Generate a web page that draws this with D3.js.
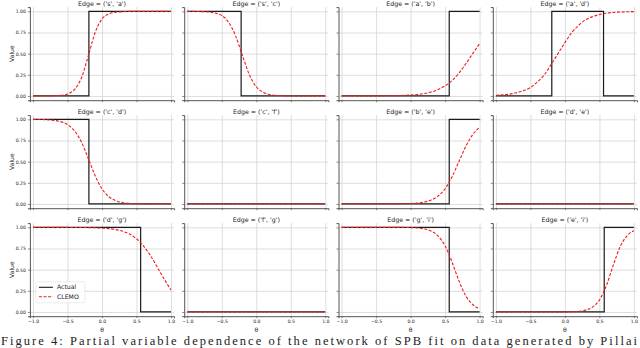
<!DOCTYPE html>
<meta charset="utf-8">
<html>
<head>
<title>edge dependence</title>
<style>
    body {
        margin: 0;
        background: #fff;
    }
    svg text {
        font-family: "DejaVu Sans", sans-serif;
        fill: #222;
    }
</style>
<script src="https://d3js.org/d3.v7.min.js"></script>
</head>
<body>
<div id="chart"></div>
<script>

var theta = [-1.0, -0.9, -0.8, -0.7, -0.6, -0.5, -0.4, -0.3, -0.2, -0.1, 0.0,
             0.1, 0.2, 0.3, 0.4, 0.5, 0.6, 0.7, 0.8, 0.9, 1.0];

var edges = [["s", "a"], ["s", "c"], ["a", "b"], ["a", "d"],
             ["c", "d"], ["c", "f"], ["b", "e"], ["d", "e"],
             ["d", "g"], ["f", "g"], ["g", "i"], ["e", "i"]];

// actual: value at theta=-1 and where it flips
var actualStart = [0, 1, 0, 0,  1, 0, 0, 0,  1, 0, 1, 0];
var actualSteps = [[-0.19], [-0.22], [0.56], [-0.19, 0.56],
                   [-0.19], [], [0.56], [],
                   [0.56], [], [0.56], [0.57]];

// CLEMO values at each theta
var clemoSA = [0, 0, 0, 0.002, 0.007, 0.024, 0.075, 0.21, 0.47, 0.75, 0.91, 0.97, 0.99, 0.995, 1, 1, 1, 1, 1, 1, 1];
var clemoSC = [1, 0.999, 0.997, 0.993, 0.98, 0.95, 0.87, 0.71, 0.475, 0.25, 0.109, 0.043, 0.016, 0.006, 0.002, 0, 0, 0, 0, 0, 0];
var clemoAB = [0, 0, 0, 0.0002, 0.0004, 0.001, 0.0015, 0.0025, 0.004, 0.007, 0.011, 0.018, 0.029, 0.047, 0.076, 0.12, 0.18, 0.27, 0.38, 0.5, 0.62];
var clemoAD = [0.008, 0.013, 0.022, 0.038, 0.063, 0.10, 0.165, 0.25, 0.37, 0.5, 0.63, 0.75, 0.835, 0.90, 0.937, 0.962, 0.978, 0.987, 0.992, 0.995, 0.997];
var clemoCD = [0.999, 0.998, 0.995, 0.988, 0.973, 0.938, 0.866, 0.735, 0.54, 0.336, 0.178, 0.085, 0.038, 0.017, 0.007, 0.003, 0.001, 0, 0, 0, 0];
var clemoCF = [0, 0, 0, 0, 0, 0, 0, 0, 0, 0, 0, 0, 0, 0, 0, 0, 0, 0, 0, 0, 0];
var clemoBE = [0, 0, 0, 0, 0, 0, 0, 0, 0.001, 0.0025, 0.005, 0.011, 0.023, 0.047, 0.095, 0.18, 0.32, 0.5, 0.68, 0.82, 0.905];
var clemoDE = [0, 0, 0, 0, 0, 0, 0, 0, 0, 0, 0, 0, 0, 0, 0, 0, 0, 0, 0, 0, 0];
var clemoDG = [1, 1, 1, 0.999, 0.999, 0.999, 0.998, 0.998, 0.997, 0.995, 0.99, 0.985, 0.973, 0.953, 0.92, 0.865, 0.78, 0.67, 0.53, 0.39, 0.26];
var clemoFG = [0, 0, 0, 0, 0, 0, 0, 0, 0, 0, 0, 0, 0, 0, 0, 0, 0, 0, 0, 0, 0];
var clemoGI = [1, 1, 1, 1, 1, 1, 1, 1, 1, 0.999, 0.997, 0.992, 0.981, 0.955, 0.897, 0.78, 0.59, 0.37, 0.19, 0.088, 0.038];
var clemoEI = [0, 0, 0, 0, 0, 0, 0, 0, 0, 0, 0.001, 0.003, 0.008, 0.022, 0.057, 0.14, 0.31, 0.55, 0.77, 0.90, 0.96];

var clemo = [clemoSA, clemoSC, clemoAB, clemoAD,
             clemoCD, clemoCF, clemoBE, clemoDE,
             clemoDG, clemoFG, clemoGI, clemoEI];

var xTicks = [-1.0, -0.5, 0.0, 0.5, 1.0];
var yTicks = [0, 0.25, 0.5, 0.75, 1.0];

var caption = "Figure 4: Partial variable dependence of the network of SPB fit on data generated by Pillai";

// layout of the 3x4 grid
var W = 640, H = 348;
var nCols = 4;
var colStep = 154.3, rowStep = 108;
var pw = 144.2, ph = 93.1;   // plot area of one panel
var left0 = 29.9, top0 = 7.1;

var svg = d3.select("#chart")
  .append("svg")
    .attr("width", W)
    .attr("height", H);

var fmtX = function(d) { return d3.format(".1f")(d).replace("-", "\u2212"); };

edges.forEach(function(e, i) {
  var col = i % nCols, row = Math.floor(i / nCols);
  var g = svg.append("g")
      .attr("transform", "translate(" + (left0 + col * colStep) + "," + (top0 + row * rowStep) + ")");

  var x = d3.scaleLinear().domain([-1.045, 1.045]).range([0, pw]);
  var y = d3.scaleLinear().domain([-0.05, 1.05]).range([ph, 0]);

  // grid
  g.append("g")
      .attr("class", "grid")
      .call(d3.axisLeft(y).tickValues(yTicks).tickSize(-pw).tickFormat(""))
      .call(function(s) { s.select(".domain").remove(); });
  g.append("g")
      .attr("class", "grid")
      .attr("transform", "translate(0," + ph + ")")
      .call(d3.axisBottom(x).tickValues(xTicks).tickSize(-ph).tickFormat(""))
      .call(function(s) { s.select(".domain").remove(); });
  g.selectAll(".grid line")
      .attr("stroke", "#d4d4d4")
      .attr("stroke-width", 0.8);

  // axes
  var ya = g.append("g")
      .call(d3.axisLeft(y).tickValues(yTicks).tickSize(2).tickPadding(2)
        .tickFormat(col === 0 ? d3.format(".2f") : ""));
  var xa = g.append("g")
      .attr("transform", "translate(0," + ph + ")")
      .call(d3.axisBottom(x).tickValues(xTicks).tickSize(2).tickPadding(1.5)
        .tickFormat(row === 2 ? fmtX : ""));
  [ya, xa].forEach(function(a) {
    a.select(".domain").attr("stroke", "#555").attr("stroke-width", 1);
    a.selectAll(".tick line").attr("stroke", "#555").attr("stroke-width", 0.7);
    a.selectAll("text")
        .style("font-family", "DejaVu Sans")
        .style("font-size", "4.6px")
        .attr("fill", "#222");
  });

  // title
  g.append("text")
      .attr("x", pw / 2)
      .attr("y", -1.2)
      .attr("text-anchor", "middle")
      .style("font-size", "6.3px")
      .text("Edge = ('" + e[0] + "', '" + e[1] + "')");

  if (col === 0) {
    g.append("text")
        .attr("transform", "translate(-16," + (ph / 2) + ") rotate(-90)")
        .attr("text-anchor", "middle")
        .style("font-size", "6px")
        .text("Value");
  }
  if (row === 2) {
    g.append("text")
        .attr("x", pw / 2)
        .attr("y", ph + 15.5)
        .attr("text-anchor", "middle")
        .style("font-size", "6px")
        .text("\u03b8");
  }

  // actual step line
  var pts = [[-1, actualStart[i]]];
  var v = actualStart[i];
  actualSteps[i].forEach(function(s) {
    pts.push([s, v]);
    v = 1 - v;
    pts.push([s, v]);
  });
  pts.push([1, v]);

  var line = d3.line()
      .x(function(d) { return x(d[0]); })
      .y(function(d) { return y(d[1]); });

  g.append("path")
      .datum(pts)
      .attr("fill", "none")
      .attr("stroke", "#1a1a1a")
      .attr("stroke-width", 1.2)
      .attr("d", line);

  // CLEMO curve
  var cl = d3.line()
      .curve(d3.curveMonotoneX)
      .x(function(d, j) { return x(theta[j]); })
      .y(function(d) { return y(d); });

  g.append("path")
      .datum(clemo[i])
      .attr("fill", "none")
      .attr("stroke", "#ee1c1c")
      .attr("stroke-width", 1.1)
      .attr("stroke-dasharray", "3,1.6")
      .attr("d", cl);

  // legend in the lower-left panel
  if (i === 8) {
    var lg = g.append("g").attr("transform", "translate(6," + (y(0.25) - 9) + ")");
    lg.append("rect")
        .attr("width", 49).attr("height", 21).attr("rx", 1.5)
        .attr("fill", "#fff").attr("fill-opacity", 0.85)
        .attr("stroke", "#ddd").attr("stroke-width", 0.6);
    var items = [["Actual", "#1a1a1a", null], ["CLEMO", "#ee1c1c", "3,1.6"]];
    items.forEach(function(it, k) {
      var yy = 5.5 + k * 9.5;
      lg.append("line")
          .attr("x1", 3).attr("x2", 17).attr("y1", yy).attr("y2", yy)
          .attr("stroke", it[1]).attr("stroke-width", 1.1)
          .attr("stroke-dasharray", it[2]);
      lg.append("text")
          .attr("x", 21).attr("y", yy + 2.1)
          .style("font-size", "6.2px")
          .text(it[0]);
    });
  }
});

// caption below the figure
svg.append("text")
    .attr("x", 1)
    .attr("y", 345)
    .attr("textLength", 636)
    .attr("lengthAdjust", "spacing")
    .style("font-family", "Liberation Serif, serif")
    .style("font-size", "12.5px")
    .attr("fill", "#111")
    .text(caption);

</script>
</body>
</html>
